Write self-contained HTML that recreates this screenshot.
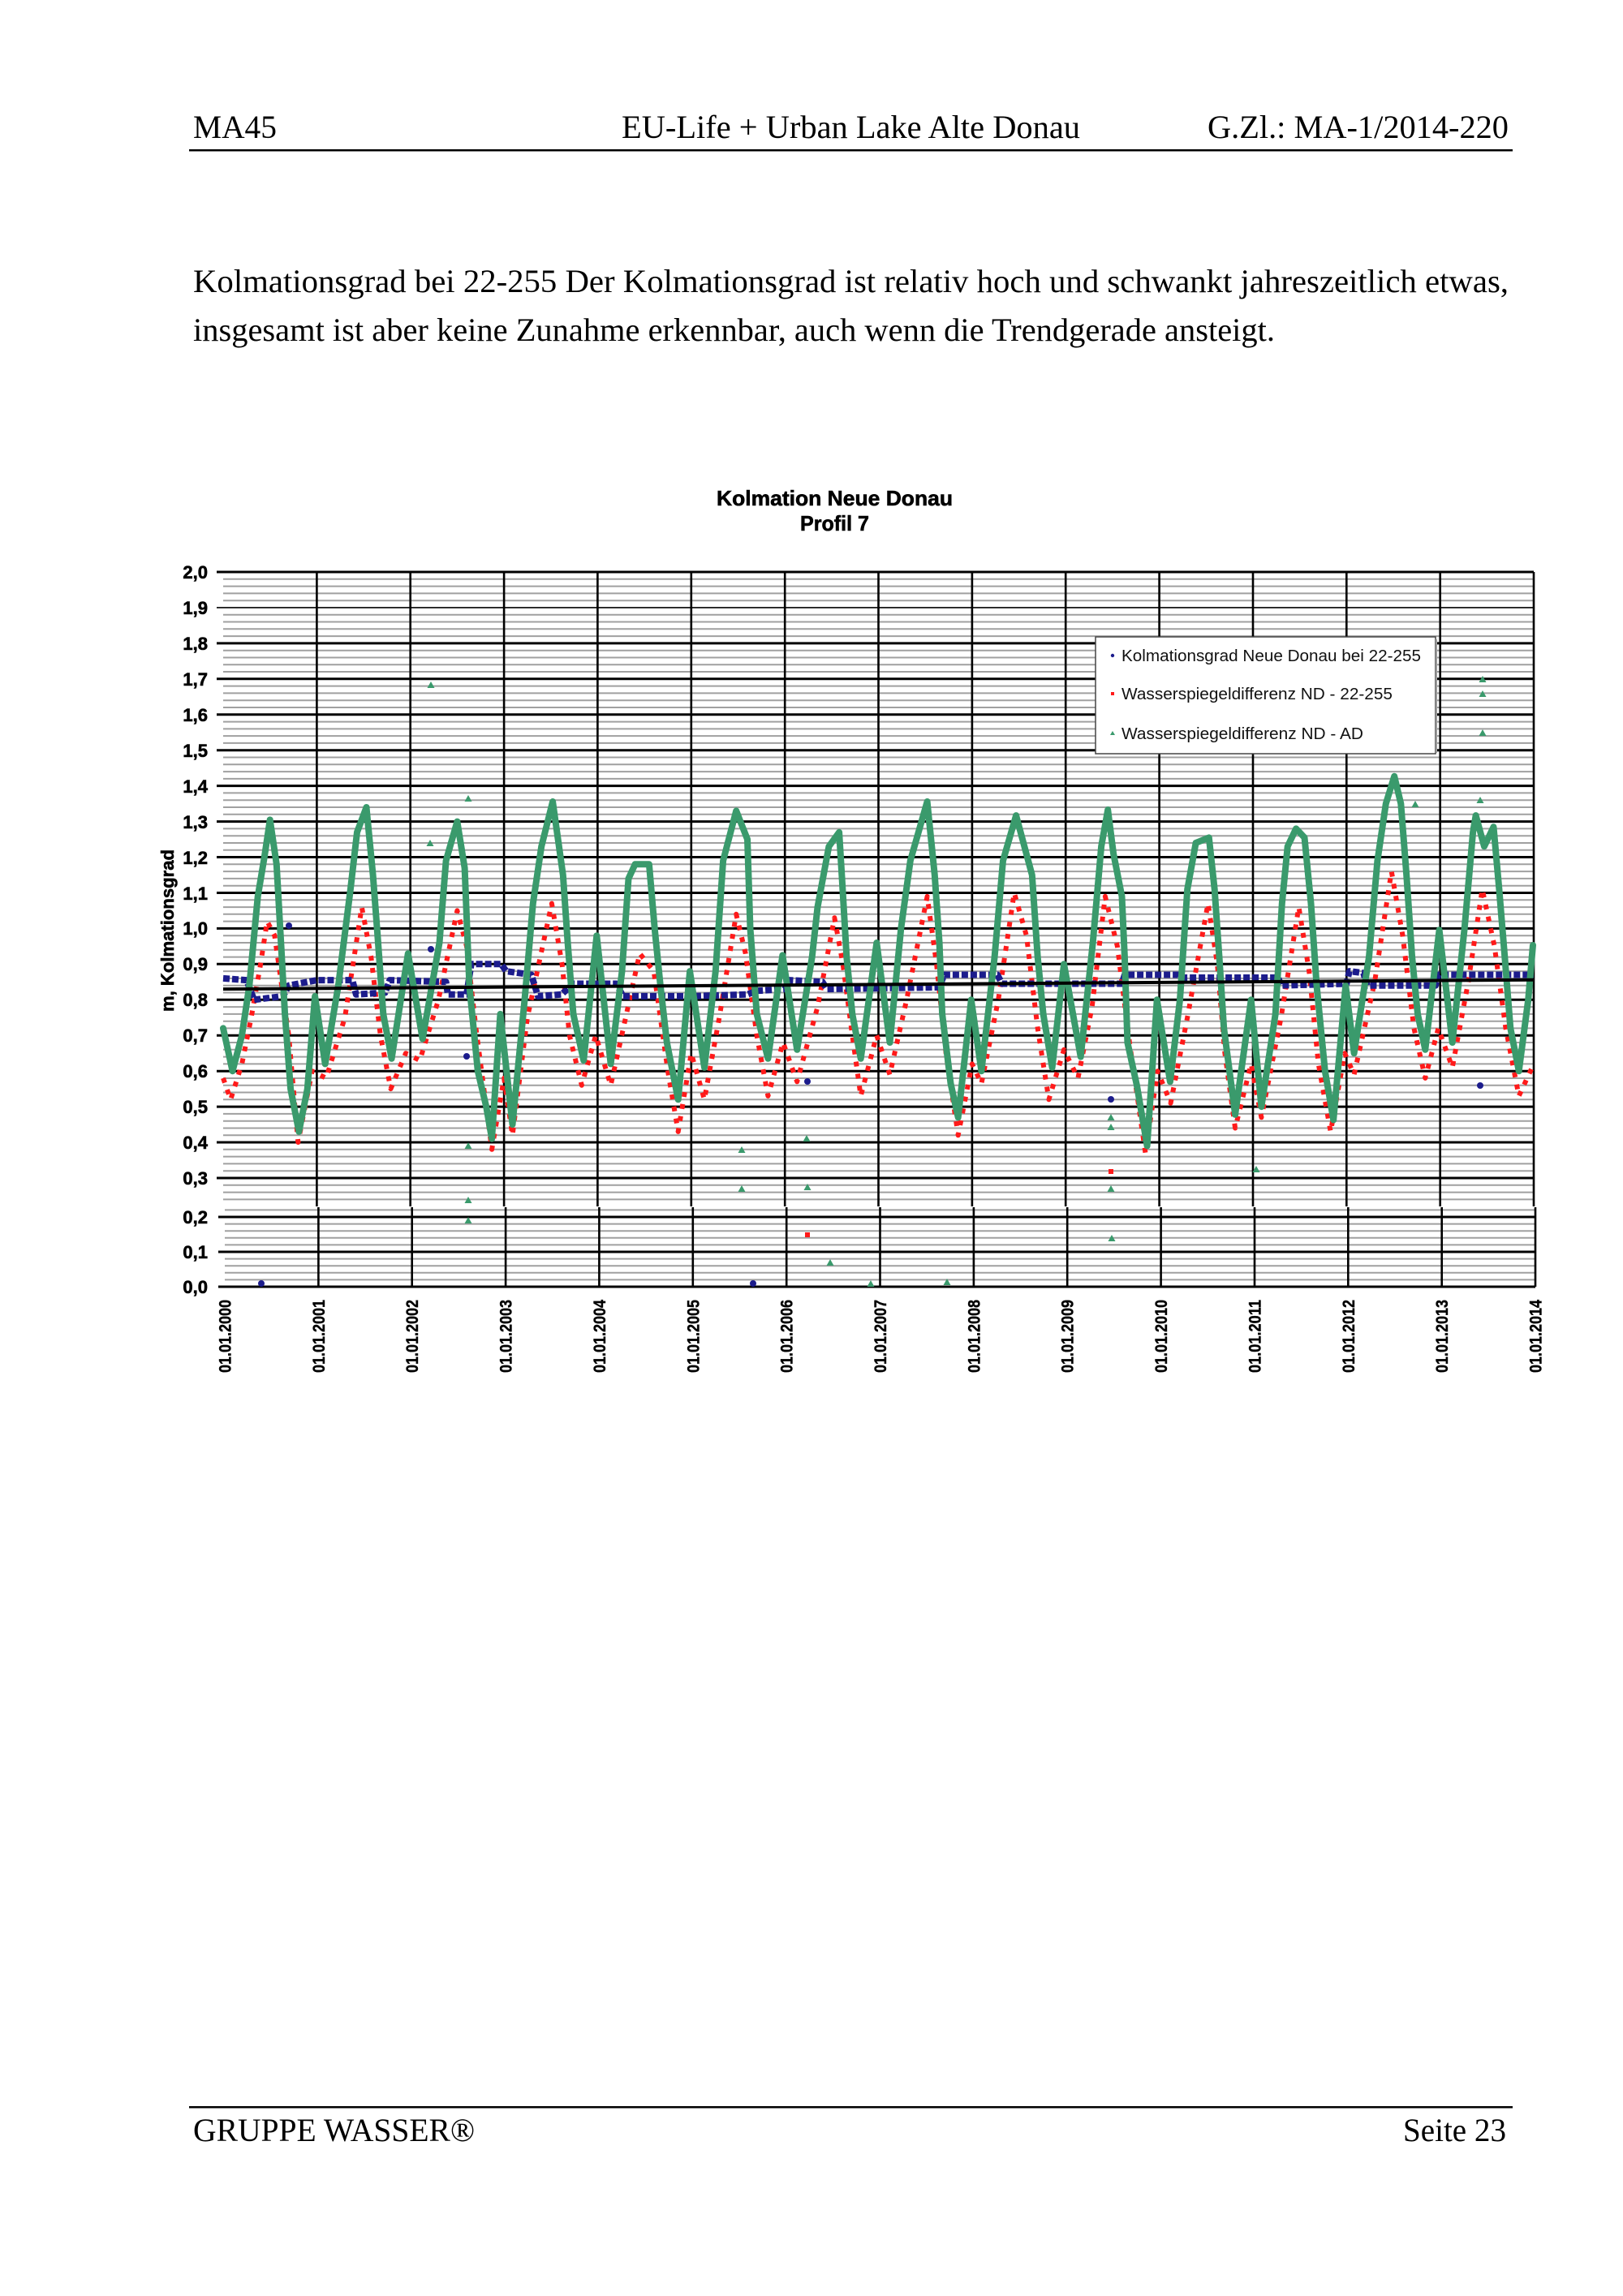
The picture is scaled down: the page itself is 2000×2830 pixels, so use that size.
<!DOCTYPE html>
<html><head><meta charset="utf-8"><style>
html,body{margin:0;padding:0;background:#fff;}
svg{display:block;}
.serif{font-family:"Liberation Serif","Times New Roman",serif;font-size:40px;fill:#000;}
.lab{font-family:"Liberation Sans",Arial,sans-serif;font-weight:bold;font-size:22px;fill:#000;stroke:#000;stroke-width:0.6;}
.xl{font-family:"Liberation Sans",Arial,sans-serif;font-weight:bold;font-size:21px;fill:#000;stroke:#000;stroke-width:0.4;}
.leg{font-family:"Liberation Sans",Arial,sans-serif;font-size:20px;fill:#111;}
</style></head><body>
<svg width="2000" height="2830" viewBox="0 0 2000 2830" xmlns="http://www.w3.org/2000/svg">
<rect x="0" y="0" width="2000" height="2830" fill="#fff"/>
<!-- header -->
<text class="serif" x="238" y="170" textLength="103" lengthAdjust="spacingAndGlyphs">MA45</text>
<text class="serif" x="766" y="170" textLength="565" lengthAdjust="spacingAndGlyphs">EU-Life + Urban Lake Alte Donau</text>
<text class="serif" x="1488" y="170" textLength="371" lengthAdjust="spacingAndGlyphs">G.Zl.: MA-1/2014-220</text>
<rect x="233" y="184" width="1631" height="2.5" fill="#000"/>
<!-- body -->
<text class="serif" x="238" y="360" textLength="1621" lengthAdjust="spacingAndGlyphs">Kolmationsgrad bei 22-255 Der Kolmationsgrad ist relativ hoch und schwankt jahreszeitlich etwas,</text>
<text class="serif" x="238" y="420" textLength="1333" lengthAdjust="spacingAndGlyphs">insgesamt ist aber keine Zunahme erkennbar, auch wenn die Trendgerade ansteigt.</text>
<!-- title -->
<text class="lab" x="883" y="623" style="font-size:26px" textLength="291" lengthAdjust="spacingAndGlyphs">Kolmation Neue Donau</text>
<text class="lab" x="986" y="654" style="font-size:26px" textLength="85" lengthAdjust="spacingAndGlyphs">Profil 7</text>

<!-- minor gray grid upper -->
<path stroke="#a0a0a0" stroke-width="2" fill="none" d="M275 713.8H1890M275 722.6H1890M275 731.4H1890M275 740.2H1890M275 757.7H1890M275 766.5H1890M275 775.3H1890M275 784.1H1890M275 801.7H1890M275 810.5H1890M275 819.3H1890M275 828H1890M275 845.6H1890M275 854.4H1890M275 863.2H1890M275 872H1890M275 889.6H1890M275 898.4H1890M275 907.1H1890M275 915.9H1890M275 933.5H1890M275 942.3H1890M275 951.1H1890M275 959.9H1890M275 977.4H1890M275 986.2H1890M275 995H1890M275 1003.8H1890M275 1021.4H1890M275 1030.2H1890M275 1039H1890M275 1047.7H1890M275 1065.3H1890M275 1074.1H1890M275 1082.9H1890M275 1091.7H1890M275 1109.3H1890M275 1118.1H1890M275 1126.8H1890M275 1135.6H1890M275 1153.2H1890M275 1162H1890M275 1170.8H1890M275 1179.6H1890M275 1197.1H1890M275 1205.9H1890M275 1214.7H1890M275 1223.5H1890M275 1241.1H1890M275 1249.9H1890M275 1258.7H1890M275 1267.4H1890M275 1285H1890M275 1293.8H1890M275 1302.6H1890M275 1311.4H1890M275 1329H1890M275 1337.8H1890M275 1346.5H1890M275 1355.3H1890M275 1372.9H1890M275 1381.7H1890M275 1390.5H1890M275 1399.3H1890M275 1416.8H1890M275 1425.6H1890M275 1434.4H1890M275 1443.2H1890M275 1460.8H1890M275 1469.6H1890M275 1478.4H1890"/>
<!-- minor gray grid lower -->
<path stroke="#a0a0a0" stroke-width="2" fill="none" d="M277 1491.4H1892M277 1508.6H1892M277 1517.2H1892M277 1525.8H1892M277 1534.4H1892M277 1551.6H1892M277 1560.2H1892M277 1568.8H1892M277 1577.4H1892"/>
<!-- major lines -->
<path stroke="#000" stroke-width="3" fill="none" d="M267 705H1890M267 792.9H1890M267 836.8H1890M267 880.8H1890M267 924.7H1890M267 968.6H1890M267 1012.6H1890M267 1056.5H1890M267 1100.5H1890M267 1144.4H1890M267 1188.3H1890M267 1232.3H1890M267 1276.2H1890M267 1320.2H1890M267 1364.1H1890M267 1408H1890M267 1452H1890M269 1500H1892M269 1543H1892M269 1586H1892"/>
<path stroke="#000" stroke-width="1.6" fill="none" d="M267 748.9H1890"/>
<!-- vertical lines -->
<path stroke="#000" stroke-width="2.6" fill="none" d="M390.4 705V1487M505.7 705V1487M621.1 705V1487M736.4 705V1487M851.8 705V1487M967.2 705V1487M1082.5 705V1487M1197.9 705V1487M1313.2 705V1487M1428.6 705V1487M1544 705V1487M1659.3 705V1487M1774.7 705V1487M1890 705V1487M392.4 1488V1586M507.7 1488V1586M623.1 1488V1586M738.4 1488V1586M853.8 1488V1586M969.2 1488V1586M1084.5 1488V1586M1199.9 1488V1586M1315.2 1488V1586M1430.6 1488V1586M1546 1488V1586M1661.3 1488V1586M1776.7 1488V1586M1892 1488V1586"/>

<!-- red series -->
<polyline fill="none" stroke="#ff1a1a" stroke-width="6" stroke-dasharray="6 9" stroke-linejoin="round" points="275,1328.9 284.2,1355.3 298.1,1311.4 309.6,1254.2 321.1,1188.3 329.2,1135.6 338.4,1153.2 346.5,1210.3 355.8,1276.2 367.3,1408 384.6,1320.2 401.9,1328.9 425,1254.2 445.8,1118 457.3,1179.6 468.8,1276.2 481.5,1342.1 500,1298.2 517.3,1307 540.3,1232.3 563.4,1122.4 575,1166.4 586.5,1267.4 606.1,1416.8 621.1,1328.9 631.5,1399.3 649.9,1254.2 679.9,1113.6 692.6,1188.3 701.8,1276.2 716.8,1337.7 734.1,1276.2 752.6,1337.7 771,1254.2 788.3,1175.2 805.7,1197.1 823,1320.2 835.7,1394.9 851.8,1298.2 868,1355.3 886.4,1254.2 907.2,1126.8 918.7,1175.2 932.6,1276.2 946.4,1350.9 964.9,1285 982.2,1333.3 1007.5,1241.1 1028.3,1131.2 1038.7,1188.3 1050.3,1276.2 1060.7,1350.9 1080.3,1276.2 1096.5,1324.6 1117.2,1232.3 1142.6,1104.9 1154.1,1188.3 1165.7,1298.2 1180.7,1399.3 1197.9,1311.4 1209.4,1335.5 1230.2,1232.3 1249.8,1100.5 1264.9,1153.2 1278.7,1267.4 1292.5,1355.3 1311.1,1293.8 1328.4,1328.9 1345.7,1241.1 1361.9,1104.9 1376.9,1166.4 1391.9,1285 1411.5,1421.2 1426.5,1320.2 1442.6,1359.7 1463.2,1254.2 1488.6,1113.6 1500.1,1188.3 1509.4,1298.2 1522.1,1390.5 1541.7,1311.4 1554.4,1377.3 1578.6,1254.2 1600.5,1118 1613.2,1197.1 1624.7,1311.4 1639.7,1394.9 1657.1,1298.2 1668.6,1324.6 1694,1210.3 1714.7,1074.1 1728.5,1153.2 1742.4,1267.4 1756.3,1328.9 1772.4,1267.4 1789.7,1315.8 1809.3,1210.3 1826.6,1096.1 1841.6,1166.4 1855.5,1267.4 1871.7,1350.9 1890,1311.4"/>

<!-- navy series -->
<polyline fill="none" stroke="#1c1c8c" stroke-width="8" stroke-dasharray="8 3" stroke-linejoin="round" points="275,1205.9 303.8,1208.1 313.1,1232.3 348.8,1227.9 355.8,1214.7 390.4,1208.1 434.2,1208.1 438.8,1225.7 474.6,1223.5 480.3,1208.1 549.6,1210.3 551.9,1225.7 575,1225.7 580.7,1188.3 617.6,1188.3 623.8,1197.1 654.7,1201.5 663,1227.9 691.9,1225.7 706.5,1212.5 759.5,1212.5 767.7,1227.9 851.8,1227.9 921,1225.7 932.6,1221.3 967.2,1219.1 973,1208.1 1013.4,1210.3 1019.1,1219.1 1157.6,1216.9 1163.4,1201.5 1229.1,1201.5 1234.8,1212.5 1382.5,1212.5 1385.9,1201.5 1451.6,1201.5 1457.4,1205 1575,1205 1578.6,1214.7 1659.3,1212.5 1662.8,1197.1 1680.1,1199.3 1684.7,1214.7 1768.9,1214.7 1772.4,1201.5 1890,1201.5"/>

<!-- green series -->
<polyline fill="none" stroke="#3a9a6c" stroke-width="8" stroke-linejoin="round" stroke-linecap="round" points="275,1267.4 280.8,1293.8 286.5,1320.2 298.1,1276.2 307.3,1214.7 317.7,1104.9 325.8,1056.5 332.7,1010.4 340.8,1065.3 346.5,1166.4 351.1,1249.9 358.1,1342.1 368.4,1394.9 378.8,1342.1 388.1,1227.9 400.7,1311.4 416.9,1214.7 431.9,1096.1 440,1025.8 451.5,995 459.6,1078.5 465.3,1153.2 472.3,1249.9 482.6,1304.8 502.8,1175.2 520.7,1280.6 541.5,1162 549.6,1060.9 563.4,1012.6 572.6,1069.7 578.4,1214.7 588.8,1320.2 599.2,1364.1 606.1,1403.6 616.5,1249.9 631.5,1386.1 646.5,1232.3 656.8,1113.6 667.2,1043.3 681.1,988 693.8,1078.5 699.6,1162 706.5,1249.9 719.2,1307 735.3,1153.2 752.6,1311.4 766.5,1197.1 774.5,1082.9 782.6,1065.3 799.9,1065.3 806.9,1146.2 813.8,1214.7 821.8,1285 832.2,1337.7 835.7,1355.3 850.1,1197.1 868,1315.8 881.8,1197.1 891.1,1060.9 907.2,999.4 921,1034.5 924.5,1144.4 932.6,1249.9 946.4,1304.8 964.3,1177.4 982.2,1293.8 1000.7,1179.6 1007.5,1118 1021.4,1043.3 1034.1,1025.8 1037.6,1082.9 1043.3,1179.6 1050.3,1249.9 1060.7,1304.8 1080.3,1162 1096.5,1285 1110.3,1144.4 1121.8,1060.9 1142.6,988 1151.8,1078.5 1157.6,1162 1161.1,1249.9 1171.5,1335.5 1180.7,1377.3 1196.8,1232.3 1209.4,1320.2 1225.6,1179.6 1236,1060.9 1252.1,1005.1 1271.8,1078.5 1278.7,1179.6 1285.6,1249.9 1296.6,1315.8 1311.1,1188.3 1331.7,1302.6 1346.7,1162 1357.1,1043.3 1365.2,998.1 1372.1,1052.1 1382.5,1104.9 1385.9,1179.6 1389.4,1285 1400.9,1337.7 1413.6,1412.4 1425.7,1232.3 1441.9,1333.3 1454,1232.3 1463.2,1096.1 1473.6,1038.9 1489.8,1032.4 1496.7,1096.1 1502.5,1179.6 1508.2,1267.4 1522.1,1373.8 1541.7,1232.3 1554.4,1364.1 1571.7,1249.9 1579.8,1113.6 1586.7,1043.3 1597.1,1021.4 1607.5,1032.4 1615.5,1113.6 1622.5,1214.7 1632.8,1320.2 1643.2,1380.4 1658.2,1214.7 1668.6,1298.2 1687,1179.6 1697.4,1060.9 1707.8,990.6 1718.2,956.8 1726.3,990.6 1733.2,1078.5 1740.1,1179.6 1747,1249.9 1756.3,1293.8 1773.6,1146.2 1789.7,1285 1804.7,1144.4 1815.1,1025.8 1818.6,1005.1 1829,1043.3 1840.5,1019.2 1847.4,1096.1 1854.3,1179.6 1861.3,1267.4 1871.7,1320.2 1883.2,1232.3 1889,1165"/>

<!-- green outliers -->
<g fill="#3a9a6c">
<path d="M531 840l-4.5 8h9z"/>
<path d="M577 980l-4.5 8h9z"/>
<path d="M530 1035l-4.5 8h9z"/>
<path d="M577 1408l-4.5 8h9z"/>
<path d="M577 1475l-4.5 8h9z"/>
<path d="M577 1500l-4.5 8h9z"/>
<path d="M914 1413l-4.5 8h9z"/>
<path d="M914 1461l-4.5 8h9z"/>
<path d="M994 1399l-4.5 8h9z"/>
<path d="M995 1459l-4.5 8h9z"/>
<path d="M1023 1552l-4.5 8h9z"/>
<path d="M1073 1578l-4.5 8h9z"/>
<path d="M1167 1576l-4.5 8h9z"/>
<path d="M1369 1373l-4.5 8h9z"/>
<path d="M1369 1385l-4.5 8h9z"/>
<path d="M1369 1461l-4.5 8h9z"/>
<path d="M1370 1522l-4.5 8h9z"/>
<path d="M1548 1437l-4.5 8h9z"/>
<path d="M1824 982l-4.5 8h9z"/>
<path d="M1744 987l-4.5 8h9z"/>
<path d="M1827 833l-4.5 8h9z"/>
<path d="M1827 851l-4.5 8h9z"/>
<path d="M1827 899l-4.5 8h9z"/>
</g>
<!-- navy outliers -->
<g fill="#1c1c8c">
<circle cx="322" cy="1582" r="4"/>
<circle cx="928" cy="1582" r="4"/>
<circle cx="356" cy="1141" r="4"/>
<circle cx="531" cy="1170" r="4"/>
<circle cx="575" cy="1302" r="4"/>
<circle cx="995" cy="1333" r="4"/>
<circle cx="1369" cy="1355" r="4"/>
<circle cx="1824" cy="1338" r="4"/>
</g>
<!-- red outliers -->
<g fill="#ff1a1a">
<rect x="1366" y="1441" width="6" height="6"/>
<rect x="992" y="1519" width="6" height="6"/>
</g>

<!-- trend line -->
<line x1="275" y1="1219.1" x2="1890" y2="1207.7" stroke="#000" stroke-width="4"/>

<!-- legend -->
<rect x="1350" y="785" width="419" height="144" fill="#fff" stroke="#444" stroke-width="1.5"/>
<line x1="1770" y1="788" x2="1770" y2="928" stroke="#999" stroke-width="2"/>
<circle cx="1371" cy="808" r="2.2" fill="#1c1c8c"/>
<rect x="1369" y="853" width="4" height="4" fill="#ff1a1a"/>
<path d="M1371 901l-3 5h6z" fill="#3a9a6c"/>
<text class="leg" x="1382" y="815" textLength="369" lengthAdjust="spacingAndGlyphs">Kolmationsgrad Neue Donau bei 22-255</text>
<text class="leg" x="1382" y="862" textLength="334" lengthAdjust="spacingAndGlyphs">Wasserspiegeldifferenz ND - 22-255</text>
<text class="leg" x="1382" y="911" textLength="298" lengthAdjust="spacingAndGlyphs">Wasserspiegeldifferenz ND - AD</text>

<!-- y labels -->
<g class="lab" text-anchor="end">
<text x="256" y="713">2,0</text>
<text x="256" y="757">1,9</text>
<text x="256" y="801">1,8</text>
<text x="256" y="845">1,7</text>
<text x="256" y="889">1,6</text>
<text x="256" y="933">1,5</text>
<text x="256" y="977">1,4</text>
<text x="256" y="1021">1,3</text>
<text x="256" y="1065">1,2</text>
<text x="256" y="1109">1,1</text>
<text x="256" y="1152">1,0</text>
<text x="256" y="1196">0,9</text>
<text x="256" y="1240">0,8</text>
<text x="256" y="1284">0,7</text>
<text x="256" y="1328">0,6</text>
<text x="256" y="1372">0,5</text>
<text x="256" y="1416">0,4</text>
<text x="256" y="1460">0,3</text>
<text x="256" y="1508">0,2</text>
<text x="256" y="1551">0,1</text>
<text x="256" y="1594">0,0</text>
</g>
<!-- y title -->
<text class="lab" transform="translate(214,1247) rotate(-90)" textLength="200" lengthAdjust="spacingAndGlyphs">m, Kolmationsgrad</text>

<!-- x labels -->
<g class="xl">
<text transform="translate(284.5,1692) rotate(-90)" textLength="90" lengthAdjust="spacingAndGlyphs">01.01.2000</text>
<text transform="translate(399.9,1692) rotate(-90)" textLength="90" lengthAdjust="spacingAndGlyphs">01.01.2001</text>
<text transform="translate(515.2,1692) rotate(-90)" textLength="90" lengthAdjust="spacingAndGlyphs">01.01.2002</text>
<text transform="translate(630.6,1692) rotate(-90)" textLength="90" lengthAdjust="spacingAndGlyphs">01.01.2003</text>
<text transform="translate(745.9,1692) rotate(-90)" textLength="90" lengthAdjust="spacingAndGlyphs">01.01.2004</text>
<text transform="translate(861.3,1692) rotate(-90)" textLength="90" lengthAdjust="spacingAndGlyphs">01.01.2005</text>
<text transform="translate(976.7,1692) rotate(-90)" textLength="90" lengthAdjust="spacingAndGlyphs">01.01.2006</text>
<text transform="translate(1092,1692) rotate(-90)" textLength="90" lengthAdjust="spacingAndGlyphs">01.01.2007</text>
<text transform="translate(1207.4,1692) rotate(-90)" textLength="90" lengthAdjust="spacingAndGlyphs">01.01.2008</text>
<text transform="translate(1322.7,1692) rotate(-90)" textLength="90" lengthAdjust="spacingAndGlyphs">01.01.2009</text>
<text transform="translate(1438.1,1692) rotate(-90)" textLength="90" lengthAdjust="spacingAndGlyphs">01.01.2010</text>
<text transform="translate(1553.5,1692) rotate(-90)" textLength="90" lengthAdjust="spacingAndGlyphs">01.01.2011</text>
<text transform="translate(1668.8,1692) rotate(-90)" textLength="90" lengthAdjust="spacingAndGlyphs">01.01.2012</text>
<text transform="translate(1784.2,1692) rotate(-90)" textLength="90" lengthAdjust="spacingAndGlyphs">01.01.2013</text>
<text transform="translate(1899.5,1692) rotate(-90)" textLength="90" lengthAdjust="spacingAndGlyphs">01.01.2014</text>
</g>

<!-- footer -->
<rect x="233" y="2596" width="1631" height="2.5" fill="#000"/>
<text class="serif" x="238" y="2639" textLength="347" lengthAdjust="spacingAndGlyphs">GRUPPE WASSER®</text>
<text class="serif" x="1729" y="2639" textLength="127" lengthAdjust="spacingAndGlyphs">Seite 23</text>
</svg>
</body></html>
